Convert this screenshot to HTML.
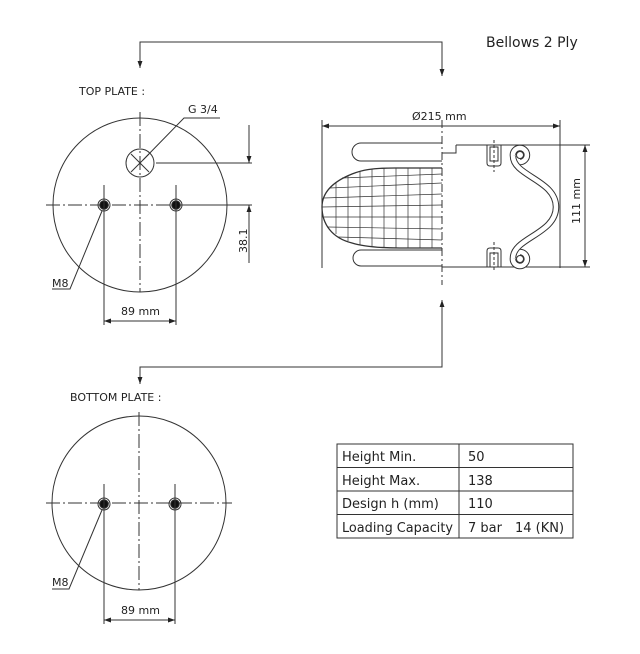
<!DOCTYPE html>
<html><head><meta charset="utf-8"><style>
html,body{margin:0;padding:0;background:#fff;width:640px;height:654px;overflow:hidden}
text{font-family:"DejaVu Sans","Liberation Sans",sans-serif;fill:#222}
</style></head><body>
<svg width="640" height="654" viewBox="0 0 640 654" xmlns="http://www.w3.org/2000/svg">
<defs>
<marker id="a" viewBox="0 0 10 10" refX="10" refY="5" markerWidth="9" markerHeight="7" orient="auto-start-reverse" markerUnits="userSpaceOnUse"><path d="M0,1.5 L10,5 L0,8.5z" fill="#222"/></marker>
</defs>
<g stroke="#333" fill="none" stroke-width="1">
<polyline points="140,68 140,42 442,42 442,76" marker-start="url(#a)" marker-end="url(#a)"/>
<polyline points="442,300 442,367 140,367 140,384" marker-start="url(#a)" marker-end="url(#a)"/>

<!-- TOP PLATE -->
<circle cx="140" cy="205" r="87"/>
<line x1="46" y1="205" x2="234" y2="205" stroke-dasharray="14,3,2,3"/>
<line x1="140" y1="112" x2="140" y2="292" stroke-dasharray="14,3,2,3"/>
<circle cx="140" cy="163" r="14"/>
<line x1="131" y1="154" x2="149" y2="172"/><line x1="149" y1="154" x2="131" y2="172"/>
<polyline points="143,160 184,118 220,118"/>
<line x1="156" y1="163" x2="252" y2="163"/>
<line x1="189" y1="205" x2="252" y2="205"/>
<line x1="249" y1="125" x2="249" y2="163" marker-end="url(#a)"/>
<line x1="249" y1="263" x2="249" y2="205" marker-end="url(#a)"/>
<circle cx="104" cy="205" r="6"/><circle cx="104" cy="205" r="4.3" fill="#111"/>
<circle cx="176" cy="205" r="6"/><circle cx="176" cy="205" r="4.3" fill="#111"/>
<line x1="104" y1="185" x2="104" y2="325"/><line x1="176" y1="185" x2="176" y2="325"/>
<line x1="104" y1="321" x2="176" y2="321" marker-start="url(#a)" marker-end="url(#a)"/>
<polyline points="102,211 70,289 52,289"/>

<!-- BOTTOM PLATE -->
<circle cx="139" cy="503" r="87"/>
<line x1="46" y1="503" x2="232" y2="503" stroke-dasharray="14,3,2,3"/>
<line x1="139" y1="412" x2="139" y2="590" stroke-dasharray="14,3,2,3"/>
<circle cx="104" cy="504" r="6"/><circle cx="104" cy="504" r="4.3" fill="#111"/>
<circle cx="175" cy="504" r="6"/><circle cx="175" cy="504" r="4.3" fill="#111"/>
<line x1="104" y1="484" x2="104" y2="624"/><line x1="175" y1="484" x2="175" y2="624"/>
<line x1="104" y1="620" x2="175" y2="620" marker-start="url(#a)" marker-end="url(#a)"/>
<polyline points="102,510 69,589 52,589"/>

<!-- BELLOWS -->
<line x1="322" y1="120" x2="322" y2="268"/>
<line x1="560" y1="120" x2="560" y2="268"/>
<line x1="322" y1="126" x2="560" y2="126" marker-start="url(#a)" marker-end="url(#a)"/>
<line x1="442" y1="120" x2="442" y2="285" stroke-dasharray="8,3,2,3"/>
<line x1="456" y1="145" x2="590" y2="145"/>
<line x1="442" y1="267" x2="590" y2="267"/>
<line x1="585" y1="145" x2="585" y2="267" marker-start="url(#a)" marker-end="url(#a)"/>
<polyline points="442,153 456,153 456,145"/>
<path d="M442,143 L361,143 A9,9 0 0 0 361,161 L442,161"/>
<path d="M442,250 L361,250 A8,8 0 0 0 361,266 L442,266"/>
<path d="M442,168 L395,168 C372,168 362,170 352,174 C332,182 322,193 322,207 C322,224 332,238 352,243 C362,246 380,248 400,248 L442,248" stroke-width="1.3"/>
<g stroke-width="0.7">
<line x1="342" y1="178" x2="442" y2="174"/>
<line x1="330" y1="188" x2="442" y2="183"/>
<line x1="324" y1="198" x2="442" y2="194"/>
<line x1="322" y1="207" x2="442" y2="205"/>
<line x1="324" y1="217" x2="442" y2="217"/>
<line x1="328" y1="227" x2="442" y2="229"/>
<line x1="338" y1="237" x2="442" y2="240"/>
<path d="M336,182 L336,234 M348,176 L348,241 M360,171 L360,245 M372,169 L372,246 M384,168 L384,247 M396,168 L396,248 M408,168 L408,248 M420,168 L420,248 M432,168 L432,248"/>
</g>
<!-- clamps -->
<path d="M487,145 L487,163 Q487,166 490,166 L498,166 Q501,166 501,163 L501,145"/>
<rect x="490" y="147" width="8" height="14"/>
<path d="M487,267 L487,251 Q487,248 490,248 L498,248 Q501,248 501,251 L501,267"/>
<rect x="490" y="253" width="8" height="14"/>
<line x1="494" y1="140" x2="494" y2="172" stroke-dasharray="3,2"/>
<line x1="494" y1="242" x2="494" y2="272" stroke-dasharray="3,2"/>
</g>
<!-- bead (double line via stroke overlay) -->
<g fill="none">
<path d="M513,156 A7,7 0 1 1 520,162 M513,156 C513,176 556,180 556,207 C556,234 513,238 513,258 M513,258 A7,7 0 1 0 520,252" stroke="#333" stroke-width="6.5"/>
<path d="M513,156 A7,7 0 1 1 520,162 M513,156 C513,176 556,180 556,207 C556,234 513,238 513,258 M513,258 A7,7 0 1 0 520,252" stroke="#fff" stroke-width="4.5"/>
<circle cx="520" cy="155" r="3.5" stroke="#333"/>
<circle cx="520" cy="259" r="3.5" stroke="#333"/>
</g>
<g stroke="#333" fill="none">
<rect x="337" y="444" width="236" height="94"/>
<line x1="459" y1="444" x2="459" y2="538"/>
<line x1="337" y1="467.5" x2="573" y2="467.5"/>
<line x1="337" y1="491" x2="573" y2="491"/>
<line x1="337" y1="514.5" x2="573" y2="514.5"/>
</g>

<g font-size="11">
<text x="79" y="95">TOP PLATE :</text>
<text x="188" y="113">G 3/4</text>
<text x="52" y="287">M8</text>
<text x="121" y="315">89 mm</text>
<text x="247" y="253" transform="rotate(-90 247 253)">38.1</text>
<text x="70" y="401">BOTTOM PLATE :</text>
<text x="52" y="586">M8</text>
<text x="121" y="614">89 mm</text>
<text x="412" y="120">Ø215 mm</text>
<text x="580" y="224" transform="rotate(-90 580 224)">111 mm</text>
</g>
<text x="486" y="47" font-size="14">Bellows 2 Ply</text>
<g font-size="13">
<text x="342" y="461">Height Min.</text><text x="468" y="461">50</text>
<text x="342" y="485">Height Max.</text><text x="468" y="485">138</text>
<text x="342" y="508">Design h (mm)</text><text x="468" y="508">110</text>
<text x="342" y="532" textLength="111" lengthAdjust="spacingAndGlyphs">Loading Capacity</text><text x="468" y="532">7 bar</text><text x="515" y="532">14 (KN)</text>
</g>
</svg>
</body></html>
